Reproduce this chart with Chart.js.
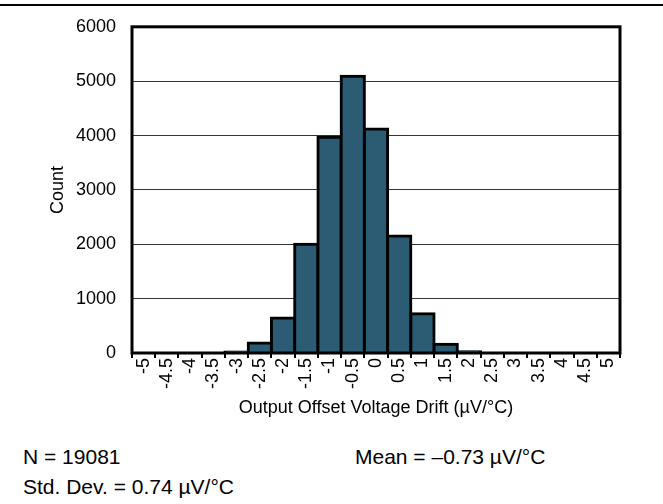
<!DOCTYPE html>
<html>
<head>
<meta charset="utf-8">
<script src="https://cdn.jsdelivr.net/npm/chart.js@4/dist/chart.umd.min.js"></script>
<style>
  body { margin: 0; background: #fff; font-family: "Liberation Sans", Arial, sans-serif; }
  #wrap { position: relative; width: 663px; height: 504px; overflow: hidden; }
  #topline { position: absolute; left: 0; top: 4px; width: 663px; height: 2px; background: #000; }
  #histChart { position: absolute; left: 0; top: 0; }
  .note { position: absolute; font-size: 21px; line-height: 24px; color: #000; white-space: nowrap; }
</style>
</head>
<body>
<div id="wrap">
  <canvas id="histChart" width="663" height="430"></canvas>
  <div id="topline"></div>
  <div class="note" style="left:23px; top:445px;">N = 19081</div>
  <div class="note" style="left:355px; top:445px;">Mean = –0.73 µV/°C</div>
  <div class="note" style="left:23px; top:475px;">Std. Dev. = 0.74 µV/°C</div>
</div>
<script>
const binLabels = ['-5', '-4.5', '-4', '-3.5', '-3', '-2.5', '-2', '-1.5', '-1', '-0.5', '0',
                   '0.5', '1', '1.5', '2', '2.5', '3', '3.5', '4', '4.5', '5'];
const counts = [0, 0, 0, 0, 20, 185, 645, 2000, 3970, 5090, 4120,
                2150, 720, 160, 25, 0, 0, 0, 0, 0, 0];
const yTicks = [0, 1000, 2000, 3000, 4000, 5000, 6000];

const barColor = '#2b5c74';
const axisFont = { family: 'Liberation Sans', size: 18 };

// frame around the plot area, drawn over the bars
const plotFrame = {
    id: 'plotFrame',
    afterDraw(chart) {
        const { ctx, chartArea: a } = chart;
        ctx.save();
        ctx.strokeStyle = '#000';
        ctx.lineWidth = 3;
        ctx.strokeRect(a.left, a.top, a.right - a.left, a.bottom - a.top);
        ctx.restore();
    }
};

new Chart(document.getElementById('histChart'), {
    type: 'bar',
    data: {
        labels: binLabels,
        datasets: [{
            data: counts,
            backgroundColor: barColor,
            borderColor: '#000',
            borderWidth: 3,
            inflateAmount: 1.5,
            categoryPercentage: 1,
            barPercentage: 1
        }]
    },
    options: {
        responsive: false,
        animation: false,
        devicePixelRatio: 1,
        layout: { padding: { left: 0, right: 43, top: 23, bottom: 0 } },
        plugins: { legend: { display: false }, tooltip: { enabled: false } },
        scales: {
            x: {
                offset: true,
                afterFit(s) { s.height = 77; },
                grid: {
                    offset: true,
                    drawOnChartArea: false,
                    drawTicks: true,
                    tickLength: 5,
                    color: '#000',
                    lineWidth: 2
                },
                border: { display: false },
                ticks: {
                    autoSkip: false,
                    minRotation: 90,
                    maxRotation: 90,
                    padding: 0,
                    color: '#000',
                    font: axisFont
                },
                title: {
                    display: true,
                    text: 'Output Offset Voltage Drift (µV/°C)',
                    color: '#000',
                    font: axisFont,
                    padding: { top: 0, bottom: 11 }
                }
            },
            y: {
                min: 0,
                max: 6000,
                afterFit(s) { s.width = 132; },
                afterBuildTicks(s) { s.ticks = yTicks.map(v => ({ value: v })); },
                grid: {
                    drawTicks: false,
                    color: '#333',
                    lineWidth: 1
                },
                border: { display: false },
                ticks: {
                    padding: 16,
                    color: '#000',
                    font: axisFont,
                    callback: v => String(v)
                },
                title: {
                    display: true,
                    text: 'Count',
                    color: '#000',
                    font: axisFont,
                    padding: { top: 47, bottom: 0 }
                }
            }
        }
    },
    plugins: [plotFrame]
});
</script>
</body>
</html>
